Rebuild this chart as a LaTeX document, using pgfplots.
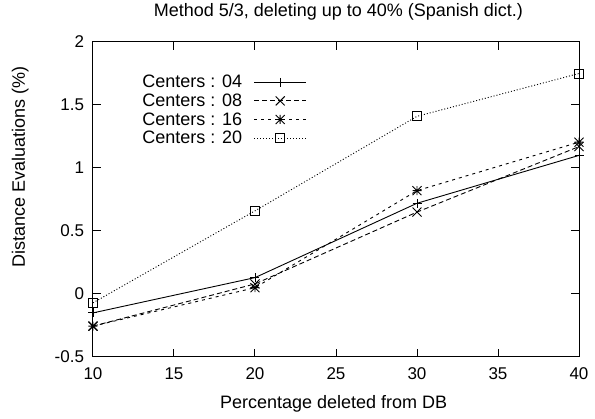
\documentclass[border=0pt]{standalone}
\usepackage{fontspec}
\setmainfont{Liberation Sans}
\usepackage{pgfplots}
\pgfplotsset{compat=1.18}
\pgfdeclareplotmark{gpx}{%
  \pgfpathmoveto{\pgfqpoint{-\pgfplotmarksize}{-\pgfplotmarksize}}%
  \pgfpathlineto{\pgfqpoint{\pgfplotmarksize}{\pgfplotmarksize}}%
  \pgfpathmoveto{\pgfqpoint{-\pgfplotmarksize}{\pgfplotmarksize}}%
  \pgfpathlineto{\pgfqpoint{\pgfplotmarksize}{-\pgfplotmarksize}}%
  \pgfusepathqstroke}
\pgfdeclareplotmark{gpstar}{%
  \pgfpathmoveto{\pgfqpoint{-\pgfplotmarksize}{-\pgfplotmarksize}}%
  \pgfpathlineto{\pgfqpoint{\pgfplotmarksize}{\pgfplotmarksize}}%
  \pgfpathmoveto{\pgfqpoint{-\pgfplotmarksize}{\pgfplotmarksize}}%
  \pgfpathlineto{\pgfqpoint{\pgfplotmarksize}{-\pgfplotmarksize}}%
  \pgfpathmoveto{\pgfqpoint{-\pgfplotmarksize}{0pt}}%
  \pgfpathlineto{\pgfqpoint{\pgfplotmarksize}{0pt}}%
  \pgfpathmoveto{\pgfqpoint{0pt}{-\pgfplotmarksize}}%
  \pgfpathlineto{\pgfqpoint{0pt}{\pgfplotmarksize}}%
  \pgfusepathqstroke}
\begin{document}
\begin{tikzpicture}
\begin{axis}[
  scale only axis,
  width=486pt, height=315pt,
  xmin=10, xmax=40, ymin=-0.5, ymax=2,
  xtick={10,15,...,40},
  ytick={-0.5,0,0.5,1,1.5,2},
  font=\fontsize{18}{21}\selectfont,
  tick label style={font=\fontsize{17}{20}\selectfont},
  /pgf/number format/assume math mode=true,
  axis line style={line width=1pt},
  tick style={line width=1pt, black},
  tick align=inside,
  major tick length=8pt,
  xticklabel style={yshift=-7pt},
  yticklabel style={xshift=-5.5pt},
  title={Method 5/3, deleting up to 40\% (Spanish dict.)},
  title style={at={(axis description cs:0.505,1.061)}, anchor=base},
  xlabel={Percentage deleted from DB},
  xlabel style={at={(axis description cs:0.495,-0.163)}, anchor=base},
  ylabel={Distance Evaluations (\%)},
  ylabel style={at={(axis description cs:-0.140,0.603)}, anchor=base, rotate=0},
  legend plot pos=right,
  legend cell align=right,
  legend style={at={(axis description cs:0.440,0.898)}, anchor=north east,
    draw=none, fill=none, inner sep=0pt, row sep=2.5pt, column sep=10.7pt,
    nodes={inner sep=1pt}},
  legend image code/.code={%
    \draw[mark repeat=2,mark phase=2,#1] plot coordinates {(0pt,0pt) (26pt,0pt) (52pt,0pt)};},
  mark size=4.5pt,
  every axis plot/.append style={line width=0.9pt, black},
]
\addplot[solid, mark=+, mark options={solid}] coordinates {(10,-0.15) (20,0.13) (30,0.72) (40,1.10)};
\addlegendentry{Centers : 04}
\addplot[dash pattern=on 5pt off 3pt, mark=gpx, mark options={solid}] coordinates {(10,-0.255) (20,0.08) (30,0.65) (40,1.17)};
\addlegendentry{Centers : 08}
\addplot[dash pattern=on 3pt off 4pt, mark=gpstar, mark options={solid}] coordinates {(10,-0.255) (20,0.05) (30,0.82) (40,1.205)};
\addlegendentry{Centers : 16}
\addplot[dash pattern=on 1pt off 2pt, mark=square, mark options={solid}] coordinates {(10,-0.07) (20,0.66) (30,1.41) (40,1.75)};
\addlegendentry{Centers : 20}
\end{axis}
\pgfresetboundingbox
\useasboundingbox ([xshift=-93pt,yshift=-62pt]current axis.south west) rectangle ([xshift=16pt,yshift=42pt]current axis.north east);
\end{tikzpicture}
\end{document}
